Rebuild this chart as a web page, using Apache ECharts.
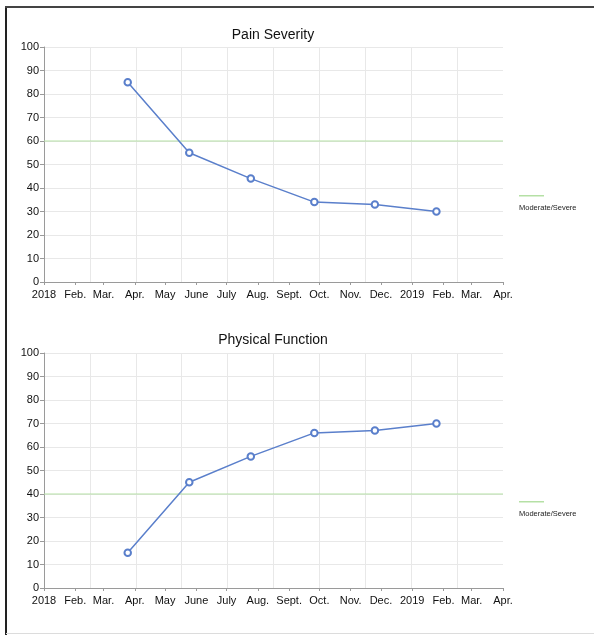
<!DOCTYPE html>
<html>
<head>
<meta charset="utf-8">
<script src="https://cdn.jsdelivr.net/npm/echarts@6/dist/echarts.min.js"></script>
<style>
html,body{margin:0;padding:0;background:#fff;}
#c{width:594px;height:635px;}
</style>
</head>
<body>
<div id="c"></div>
<script>
// ---- data ----
var visitDates = ['2018-03-25', '2018-05-25', '2018-07-25', '2018-09-26', '2018-11-25', '2019-01-25'];
var painSeverity = [85, 55, 44, 34, 33, 30];
var physicalFunction = [15, 45, 56, 66, 67, 70];
var painThreshold = 60;
var physicalThreshold = 40;
var monthTicks = ['2018-01-01','2018-02-01','2018-03-01','2018-04-01','2018-05-01','2018-06-01','2018-07-01','2018-08-01','2018-09-01','2018-10-01','2018-11-01','2018-12-01','2019-01-01','2019-02-01','2019-03-01','2019-04-01'];
var monthLabels = ['2018','Feb.','Mar.','Apr.','May','June','July','Aug.','Sept.','Oct.','Nov.','Dec.','2019','Feb.','Mar.','Apr.'];
var axisStart = '2018-01-01';
var axisEnd = '2019-04-01';
var titles = ['Pain Severity', 'Physical Function'];
var thresholdName = 'Moderate/Severe';

// ---- chart ----
var chart = echarts.init(document.getElementById('c'), null, {renderer: 'canvas'});
var FONT = 'Liberation Sans, Arial, Helvetica, sans-serif';
function ms(d) { return Date.parse(d + 'T00:00:00Z'); }
var tickMs = monthTicks.map(ms);
var startMs = ms(axisStart), endMs = ms(axisEnd);

function labelFor(v) {
  for (var i = 0; i < tickMs.length; i++) {
    if (Math.abs(tickMs[i] - v) < 43200000) return monthLabels[i];
  }
  return '';
}

var gridTops = [47, 353];
var titleTops = [28, 333];
var grids = [], xAxes = [], yAxes = [], series = [], titleOpts = [], legends = [], graphics = [];
var values = [painSeverity, physicalFunction];
var thresholds = [painThreshold, physicalThreshold];

gridTops.forEach(function (top, g) {
  grids.push({left: 44, right: 91, top: top, height: 235, containLabel: false});
  xAxes.push({
    type: 'value', gridIndex: g, min: startMs, max: endMs, scale: true,
    axisLine: {show: true, onZero: false, lineStyle: {color: '#9a9a9a', width: 1}},
    axisTick: {show: true, length: 3, customValues: tickMs, lineStyle: {color: '#9a9a9a'}},
    axisLabel: {show: true, customValues: tickMs, margin: 7, color: '#111', fontSize: 11, fontFamily: FONT,
      formatter: function (v) { return labelFor(v); }, hideOverlap: false, showMinLabel: true, showMaxLabel: true},
    splitLine: {show: false}
  });
  xAxes.push({
    type: 'value', gridIndex: g, min: 0, max: 10, interval: 1, position: 'top',
    axisLine: {show: false}, axisTick: {show: false}, axisLabel: {show: false},
    splitLine: {show: true, showMinLine: false, showMaxLine: false, lineStyle: {color: '#e8e8e8', width: 1}}
  });
  yAxes.push({
    type: 'value', gridIndex: g, min: 0, max: 100, interval: 10,
    axisLine: {show: true, lineStyle: {color: '#9a9a9a', width: 1}},
    axisTick: {show: true, length: 4, lineStyle: {color: '#9a9a9a'}},
    axisLabel: {margin: 5, color: '#111', fontSize: 11, fontFamily: FONT},
    splitLine: {show: true, lineStyle: {color: '#e8e8e8', width: 1}}
  });
  series.push({
    name: titles[g], type: 'line', xAxisIndex: g * 2, yAxisIndex: g,
    data: visitDates.map(function (d, i) { return [ms(d), values[g][i]]; }),
    symbol: 'emptyCircle', symbolSize: 6.5, showSymbol: true,
    lineStyle: {color: '#5a7fcb', width: 1.5},
    itemStyle: {color: '#5a7fcb', borderWidth: 1.5, borderColor: '#5a7fcb'},
    z: 5, animation: false
  });
  series.push({
    name: thresholdName, type: 'line', xAxisIndex: g * 2, yAxisIndex: g,
    data: [[startMs, thresholds[g]], [endMs, thresholds[g]]],
    symbol: 'none', showSymbol: false,
    lineStyle: {color: '#b5e0a5', width: 1},
    itemStyle: {color: '#b5e0a5'},
    z: 3, animation: false
  });
  titleOpts.push({
    text: titles[g], left: 273, top: titleTops[g], textAlign: 'center', padding: 0,
    textStyle: {fontSize: 14, fontWeight: 'normal', color: '#111', fontFamily: FONT}
  });
  legends.push({
    data: [{name: thresholdName, icon: 'rect'}],
    left: 519, top: top + 148, orient: 'vertical', itemWidth: 25, itemHeight: 1.5,
    formatter: function () { return ''; }, selectedMode: false, padding: 0, itemGap: 0,
    textStyle: {fontSize: 1}
  });
  graphics.push({
    type: 'text', left: 519, top: top + 157,
    style: {text: thresholdName, fontSize: 7.5, fill: '#222', fontFamily: FONT}
  });
});

graphics.push(
  {type: 'line', shape: {x1: 6, y1: 6, x2: 6, y2: 635}, style: {stroke: '#222', lineWidth: 2}},
  {type: 'line', shape: {x1: 5, y1: 7, x2: 594, y2: 7}, style: {stroke: '#444', lineWidth: 2}},
  {type: 'line', shape: {x1: 6, y1: 633.5, x2: 594, y2: 633.5}, style: {stroke: '#dcdcdc', lineWidth: 1}}
);

chart.setOption({
  animation: false,
  backgroundColor: '#fff',
  title: titleOpts,
  legend: legends,
  grid: grids,
  xAxis: xAxes,
  yAxis: yAxes,
  series: series,
  graphic: graphics
});
</script>
</body>
</html>
